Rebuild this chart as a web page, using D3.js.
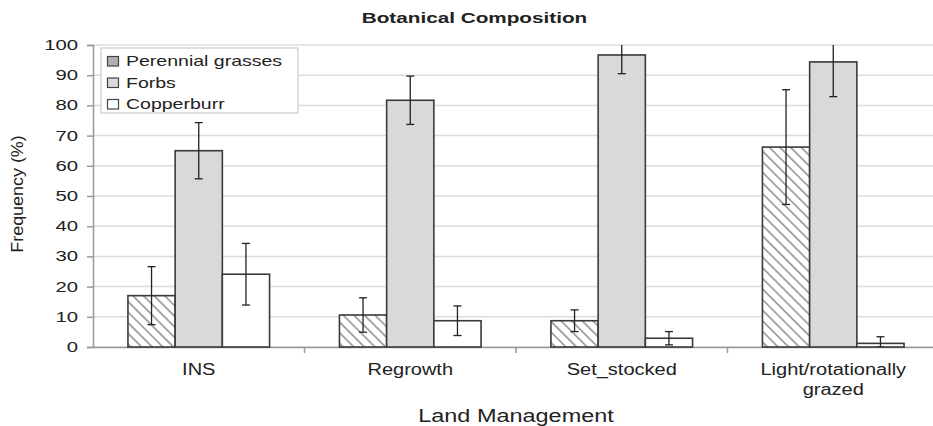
<!DOCTYPE html>
<html>
<head>
<meta charset="utf-8">
<title>Botanical Composition</title>
<script src="https://d3js.org/d3.v7.min.js"></script>
<style>
  body { margin: 0; background: #fff; }
  text { font-family: 'Liberation Sans', Arial, sans-serif; fill: #222; }
</style>
</head>
<body>
<div id="chart"></div>
<script>
var categories = ["INS", "Regrowth", "Set_stocked", "Light/rotationally grazed"];
var seriesNames = ["Perennial grasses", "Forbs", "Copperburr"];
var perennial = [17, 10.6, 8.7, 66.2];
var perennialErr = [9.6, 5.7, 3.6, 19];
var forbs = [65, 81.7, 96.7, 94.4];
var forbsErr = [9.3, 8, 6.2, 11.5];
var copperburr = [24.1, 8.7, 2.9, 1.2];
var copperburrErr = [10.2, 4.9, 2.2, 2.2];
var yTicks = [0, 10, 20, 30, 40, 50, 60, 70, 80, 90, 100];

var values = [perennial, forbs, copperburr];
var errors = [perennialErr, forbsErr, copperburrErr];
var fills = ["url(#hatch)", "#d9d9dc", "#ffffff"];

var width = 933, height = 426;
var margin = {top: 45, right: -6, bottom: 79, left: 93};
var innerW = width - margin.left - margin.right;
var innerH = height - margin.top - margin.bottom;

// the source image is stretched sideways, so widen glyphs to match
function stretch(sel, k) {
  sel.each(function() {
    var w = this.getComputedTextLength();
    d3.select(this).attr('textLength', w * k).attr('lengthAdjust', 'spacingAndGlyphs');
  });
}

var svg = d3.select('#chart').append('svg')
  .attr('width', width).attr('height', height);

var defs = svg.append('defs');
var pat = defs.append('pattern')
  .attr('id', 'hatch')
  .attr('patternUnits', 'userSpaceOnUse')
  .attr('width', 7.5).attr('height', 7.5)
  .attr('patternTransform', 'rotate(-45)');
pat.append('rect').attr('width', 7.5).attr('height', 7.5).attr('fill', '#fff');
pat.append('line').attr('x1', 0).attr('y1', 0).attr('x2', 0).attr('y2', 7.5)
  .attr('stroke', '#9a9a9a').attr('stroke-width', 3.4);

defs.append('clipPath').attr('id', 'plotclip')
  .append('rect').attr('x', -5).attr('y', 0).attr('width', innerW + 10).attr('height', innerH);

var g = svg.append('g').attr('transform', 'translate(' + margin.left + ',' + margin.top + ')');

var x0 = d3.scaleBand().domain(categories).range([0, innerW]).paddingInner(0).paddingOuter(0);
var x1 = d3.scaleBand().domain(seriesNames).range([0, x0.bandwidth()]).paddingInner(0).paddingOuter(0.74);
var y = d3.scaleLinear().domain([0, 100]).range([innerH, 0]);

// grid
g.selectAll('.grid').data(yTicks).enter().append('line')
  .attr('x1', 0).attr('x2', innerW)
  .attr('y1', function(d) { return y(d); }).attr('y2', function(d) { return y(d); })
  .attr('stroke', '#dcdcdc').attr('stroke-width', 1.5);

// y axis
var yAxis = g.append('g').call(d3.axisLeft(y).tickValues(yTicks).tickSize(6).tickPadding(9));
yAxis.select('.domain').attr('stroke', '#999').attr('stroke-width', 1.5);
yAxis.selectAll('.tick line').attr('stroke', '#999').attr('stroke-width', 1.5);
yAxis.selectAll('.tick text').style('font-size', '14px').attr('fill', '#222');
stretch(yAxis.selectAll('.tick text'), 1.45);

// x axis
var xAxis = g.append('g').attr('transform', 'translate(0,' + innerH + ')')
  .call(d3.axisBottom(x0).tickSize(0).tickPadding(16.6));
xAxis.select('.domain').attr('stroke', '#999').attr('stroke-width', 1.5);
xAxis.selectAll('.tick text').style('font-size', '16px').attr('fill', '#222')
  .each(function(d) {
    if (d === 'Light/rotationally grazed') {
      var tick = d3.select(this.parentNode);
      var yy = +d3.select(this).attr('y');
      d3.select(this).text('Light/rotationally');
      tick.append('text').attr('y', yy + 20).attr('dy', '0.71em')
        .attr('fill', '#222').attr('text-anchor', 'middle').style('font-size', '16px').text('grazed');
    }
  });
stretch(xAxis.selectAll('.tick text'), 1.25);
g.selectAll('.xsep').data(categories.slice(1)).enter().append('line')
  .attr('x1', function(d) { return x0(d); }).attr('x2', function(d) { return x0(d); })
  .attr('y1', innerH).attr('y2', innerH + 6)
  .attr('stroke', '#999').attr('stroke-width', 1.5);

// bars
var bars = g.append('g');
seriesNames.forEach(function(s, si) {
  bars.selectAll('.bar' + si).data(categories).enter().append('rect')
    .attr('x', function(c) { return x0(c) + x1(s); })
    .attr('y', function(c, i) { return y(values[si][i]); })
    .attr('width', x1.bandwidth())
    .attr('height', function(c, i) { return innerH - y(values[si][i]); })
    .attr('fill', fills[si])
    .attr('stroke', '#3a3a3a').attr('stroke-width', 1.6);
});

// error bars
var errG = g.append('g').attr('clip-path', 'url(#plotclip)');
seriesNames.forEach(function(s, si) {
  categories.forEach(function(c, i) {
    var cx = x0(c) + x1(s) + x1.bandwidth() / 2;
    var hi = y(values[si][i] + errors[si][i]);
    var lo = y(Math.max(0, values[si][i] - errors[si][i]));
    errG.append('line').attr('x1', cx).attr('x2', cx).attr('y1', hi).attr('y2', lo)
      .attr('stroke', '#222').attr('stroke-width', 1.3);
    [hi, lo].forEach(function(yy) {
      errG.append('line').attr('x1', cx - 4).attr('x2', cx + 4).attr('y1', yy).attr('y2', yy)
        .attr('stroke', '#222').attr('stroke-width', 1.3);
    });
  });
});

// titles
stretch(svg.append('text').attr('x', 474.5).attr('y', 22.5).attr('text-anchor', 'middle')
  .style('font-size', '15px').style('font-weight', 'bold').text('Botanical Composition'), 1.38);
stretch(svg.append('text').attr('x', margin.left + innerW / 2).attr('y', 422).attr('text-anchor', 'middle')
  .style('font-size', '17.5px').text('Land Management'), 1.34);
stretch(svg.append('text').attr('transform', 'translate(23,194) rotate(-90)')
  .attr('text-anchor', 'middle').style('font-size', '16px').text('Frequency (%)'), 1.12);

// legend
var leg = svg.append('g').attr('transform', 'translate(101,48)');
leg.append('rect').attr('width', 197).attr('height', 65)
  .attr('fill', '#fff').attr('stroke', '#ccc').attr('stroke-width', 1.2);
seriesNames.forEach(function(s, si) {
  var row = leg.append('g').attr('transform', 'translate(0,' + (si * 21.5) + ')');
  row.append('rect').attr('x', 6.5).attr('y', 8.5).attr('width', 11).attr('height', 9.5)
    .attr('fill', si === 0 ? '#b0b0b0' : fills[si]).attr('stroke', '#444').attr('stroke-width', 1.2);
  stretch(row.append('text').attr('x', 25).attr('y', 18).style('font-size', '15px').text(s), 1.3);
});
</script>
</body>
</html>
